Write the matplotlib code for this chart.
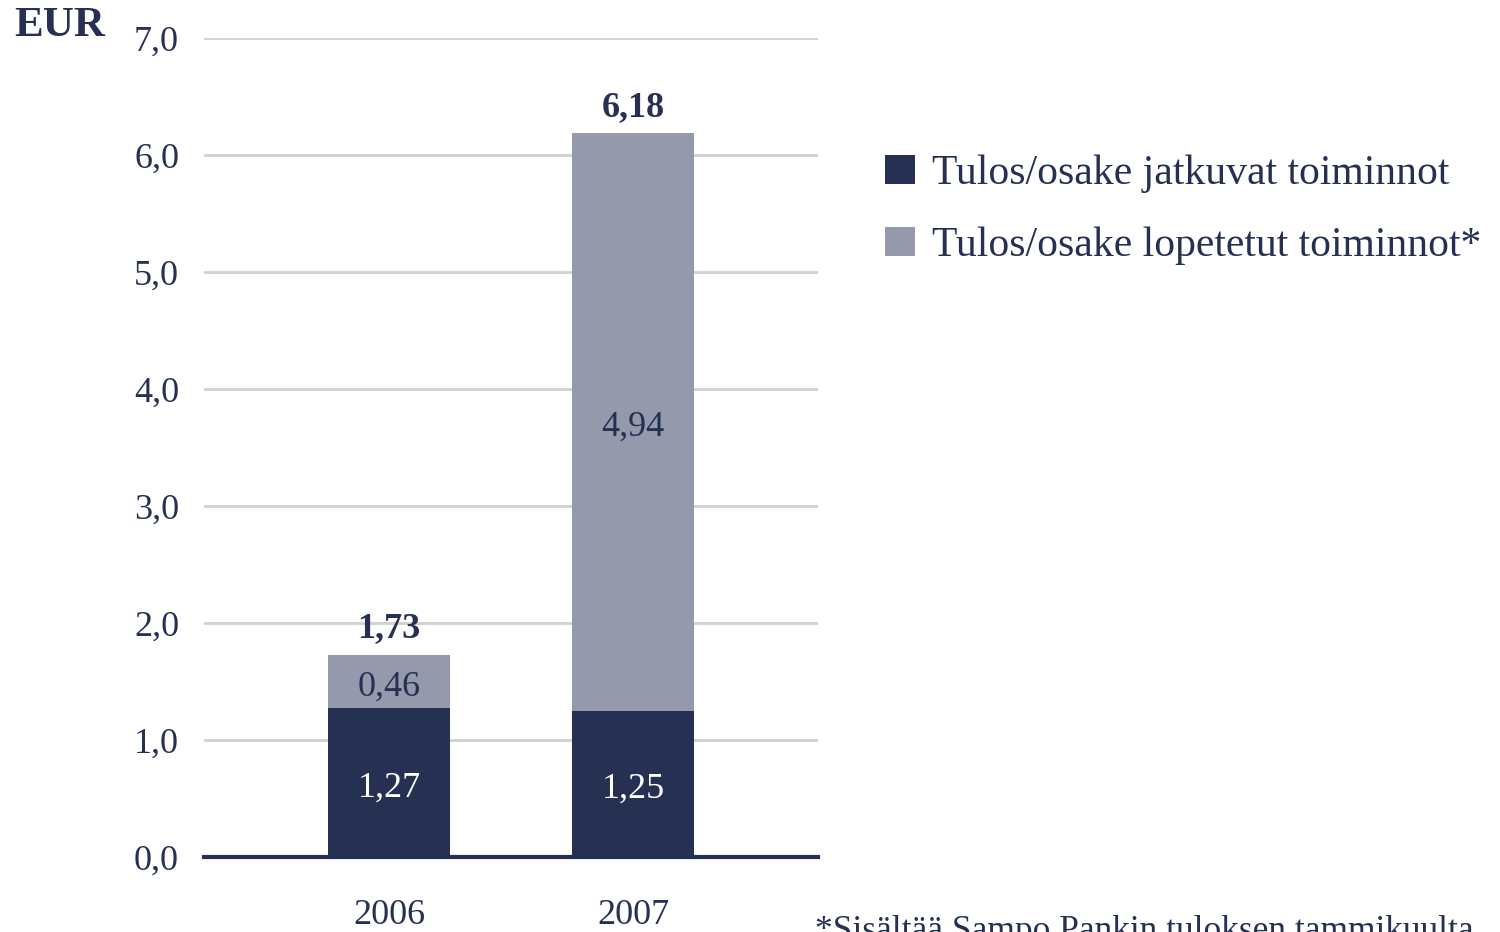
import matplotlib
matplotlib.use("Agg")
import matplotlib.pyplot as plt
import numpy as np

years = ["2006", "2007"]
continuing = [1.27, 1.25]
discontinued = [0.46, 4.94]
totals = [1.73, 6.18]
cont_labels = ["1,27", "1,25"]
disc_labels = ["0,46", "4,94"]
total_labels = ["1,73", "6,18"]
series_names = ["Tulos/osake jatkuvat toiminnot", "Tulos/osake lopetetut toiminnot*"]
yticks = [0, 1, 2, 3, 4, 5, 6, 7]
ytick_labels = ["0,0", "1,0", "2,0", "3,0", "4,0", "5,0", "6,0", "7,0"]

navy = "#263052"
grey = "#9499AB"
plt.rcParams['font.family'] = ['Liberation Serif', 'DejaVu Serif']

fig = plt.figure(figsize=(15, 9.32), dpi=100)
ax = fig.add_axes([0.136, 0.0805, 0.4093, 0.8787])
x = np.arange(len(years))
b1 = ax.bar(x, continuing, width=0.5, color=navy, label=series_names[0], zorder=3)
b2 = ax.bar(x, discontinued, width=0.5, bottom=continuing, color=grey, label=series_names[1], zorder=3)

ax.set_xlim(-0.758, 1.758)
ax.set_ylim(0, 7)
ax.set_yticks(yticks)
ax.set_yticklabels(ytick_labels, fontsize=26, color=navy)
ax.set_xticks(x)
ax.set_xticklabels(years, fontsize=26, color=navy)
ax.tick_params(axis='y', length=0, pad=18)
ax.tick_params(axis='x', length=0, pad=30)
ax.yaxis.grid(True, color="#d0d0d0", linewidth=2, zorder=0)
for s in ["top", "right", "left"]:
    ax.spines[s].set_visible(False)
ax.spines["bottom"].set_color(navy)
ax.spines["bottom"].set_linewidth(3)
ax.spines["bottom"].set_zorder(4)

for i in range(len(years)):
    ax.text(x[i], continuing[i] / 2 - 0.05, cont_labels[i], ha='center', va='center', fontsize=26, color='white', zorder=5)
    ax.text(x[i], continuing[i] + discontinued[i] / 2 - 0.05, disc_labels[i], ha='center', va='center', fontsize=26, color=navy, zorder=5)
    ax.text(x[i], totals[i] + 0.08, total_labels[i], ha='center', va='bottom', fontsize=26, fontweight='bold', color=navy, zorder=5)

fig.text(14 / 1500, 1 - 26 / 932, "EUR", fontsize=31, fontweight='bold', color=navy, ha='left', va='center')

leg = fig.legend(handles=[b1, b2], labels=series_names, loc='upper left',
                 bbox_to_anchor=(868 / 1500, 1 - 138 / 932), frameon=False,
                 fontsize=30, labelcolor=navy, handlelength=0.72, handleheight=0.72,
                 handletextpad=0.42, labelspacing=0.8, borderaxespad=0)

fig.text(815 / 1500, -0.009, "*Sisältää Sampo Pankin tuloksen tammikuulta", fontsize=25.5,
         color=navy, ha='left', va='baseline')

fig.savefig("out.png", dpi=100)
